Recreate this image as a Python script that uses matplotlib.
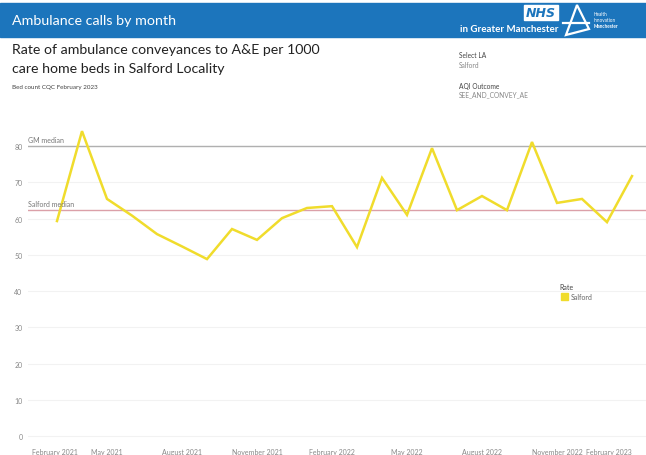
import matplotlib
matplotlib.use("Agg")
import matplotlib.pyplot as plt
from matplotlib.patches import Rectangle, Polygon

plt.rcParams['font.family'] = ['Lato', 'DejaVu Sans']

# Data
months = ['Mar 2021', 'Apr 2021', 'May 2021', 'Jun 2021', 'Jul 2021', 'Aug 2021',
          'Sep 2021', 'Oct 2021', 'Nov 2021', 'Dec 2021', 'Jan 2022', 'Feb 2022',
          'Mar 2022', 'Apr 2022', 'May 2022', 'Jun 2022', 'Jul 2022', 'Aug 2022',
          'Sep 2022', 'Oct 2022', 'Nov 2022', 'Dec 2022', 'Jan 2023', 'Feb 2023']
salford_rate = [59.3, 84.1, 65.4, 60.8, 55.7, 52.3, 48.8, 57.1, 54.1, 60.1, 62.9, 63.4,
                52.1, 71.2, 61.0, 79.4, 62.3, 66.2, 62.3, 81.1, 64.3, 65.4, 59.0, 71.7]
gm_median = 80.0
salford_median = 62.3
tick_labels = ['February 2021', 'May 2021', 'August 2021', 'November 2021',
               'February 2022', 'May 2022', 'August 2022', 'November 2022',
               'February 2023']
y_ticks = [0, 10, 20, 30, 40, 50, 60, 70, 80]

W, H = 646, 456
fig = plt.figure(figsize=(W / 100, H / 100), dpi=100)


def fx(px):
    return px / W


def fy(py):
    return 1 - py / H


# header band
fig.patches.append(Rectangle((0, fy(38)), 1, (38 - 4) / H, transform=fig.transFigure,
                             color='#1c75bc', zorder=0))
fig.text(fx(12), fy(21), 'Ambulance calls by month', color='white', fontsize=10.3,
         va='center', ha='left')

# NHS logo
fig.patches.append(Rectangle((fx(524), fy(21)), 34 / W, 15 / H, transform=fig.transFigure,
                             color='white', zorder=1))
fig.text(fx(541), fy(13.5), 'NHS', color='#1c75bc', fontsize=9, fontweight='bold',
         fontstyle='italic', ha='center', va='center', family=['DejaVu Sans'])
fig.text(fx(559), fy(29), 'in Greater Manchester', color='white', fontsize=7,
         ha='right', va='center', fontweight='bold')
tri = Polygon([(fx(566), fy(36)), (fx(577), fy(6)), (fx(589), fy(30))], closed=True,
              fill=False, edgecolor='white', lw=1.6, transform=fig.transFigure)
fig.patches.append(tri)
fig.lines.append(plt.Line2D([fx(563), fx(589)], [fy(24), fy(24)], color='white', lw=1.6,
                            transform=fig.transFigure))
for i, word in enumerate(['Health', 'Innovation', 'Manchester']):
    fig.text(fx(594), fy(14 + i * 6), word, color='white', fontsize=3.3, ha='left',
             va='center', fontweight='bold' if i == 2 else 'normal')

# titles
fig.text(fx(12), fy(50), 'Rate of ambulance conveyances to A&E per 1000', fontsize=10.2,
         color='#222222', va='center')
fig.text(fx(12), fy(69), 'care home beds in Salford Locality', fontsize=10.2,
         color='#222222', va='center')
fig.text(fx(12), fy(87), 'Bed count CQC February 2023', fontsize=4.5, color='#444444',
         va='center')

# filters
fig.text(fx(459), fy(56), 'Select LA', fontsize=4.8, color='#444444', va='center')
fig.text(fx(459), fy(65), 'Salford', fontsize=4.8, color='#888888', va='center')
fig.text(fx(459), fy(86), 'AQI Outcome', fontsize=4.8, color='#444444', va='center')
fig.text(fx(459), fy(95), 'SEE_AND_CONVEY_AE', fontsize=4.8, color='#888888', va='center')

# chart
ax = fig.add_axes([fx(28), fy(441), 1 - fx(28), (441 - 118) / H])
x = list(range(len(months)))
ax.plot(x, salford_rate, color='#f0dc2c', lw=1.8, zorder=3, solid_joinstyle='miter')
ax.axhline(gm_median, color='#b0b0b0', lw=1, zorder=2)
ax.axhline(salford_median, color='#dba0a8', lw=1, zorder=2)
ax.text(0.0, gm_median + 0.8, 'GM median', fontsize=5, color='#777777',
        transform=ax.get_yaxis_transform(), va='bottom')
ax.text(0.0, salford_median + 0.8, 'Salford median', fontsize=5, color='#777777',
        transform=ax.get_yaxis_transform(), va='bottom')

ax.set_xlim(-1.16, 23.56)
ax.set_ylim(-1.1, 88)
ax.set_yticks(y_ticks)
ax.set_yticklabels([str(v) for v in y_ticks])
ax.set_xticks([-1 + 3 * i for i in range(len(tick_labels))])
ax.set_xticklabels(tick_labels)
ax.tick_params(axis='both', length=0, labelsize=5, colors='#888888')
ax.tick_params(axis='x', pad=6)
ax.tick_params(axis='y', pad=4)
ax.get_xticklabels()[0].set_ha('left')
ax.get_xticklabels()[-1].set_ha('right')
ax.grid(axis='y', color='#f2f2f2', lw=0.8)
ax.set_axisbelow(True)
for s in ax.spines.values():
    s.set_visible(False)

# legend
fig.text(fx(559), fy(288), 'Rate', fontsize=5, color='#444444', va='center')
fig.patches.append(Rectangle((fx(561), fy(301)), 7 / W, 7 / H, transform=fig.transFigure,
                             color='#f0dc2c'))
fig.text(fx(571), fy(298), 'Salford', fontsize=5, color='#666666', va='center')

fig.savefig('out.png', dpi=100)
